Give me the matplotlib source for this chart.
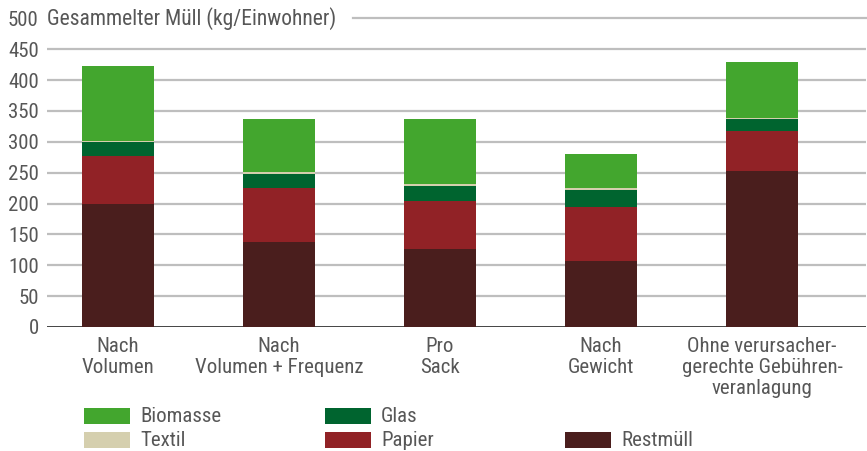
import matplotlib
matplotlib.use("Agg")
import matplotlib.pyplot as plt
from matplotlib import font_manager
from matplotlib.patches import Rectangle

# ---- data ----
categories = ["Nach\nVolumen", "Nach\nVolumen + Frequenz", "Pro\nSack", "Nach\nGewicht",
              "Ohne verursacher-\ngerechte Gebühren-\nveranlagung"]
restmuell = [200, 138, 126, 107, 253]
papier = [77, 88, 78, 87, 65]
glas = [23, 22.5, 25, 28, 19]
textil = [2, 2.5, 3, 4, 2]
biomasse = [121, 86, 105, 55, 90]
y_ticks = [0, 50, 100, 150, 200, 250, 300, 350, 400, 450, 500]
y_title = "Gesammelter Müll (kg/Einwohner)"

series = [("Restmüll", restmuell, "#4A1E1D"),
          ("Papier", papier, "#912226"),
          ("Glas", glas, "#00642F"),
          ("Textil", textil, "#D5CFAE"),
          ("Biomasse", biomasse, "#43A62E")]

# ---- font ----
avail = {f.name for f in font_manager.fontManager.ttflist}
fam = "DejaVu Sans"
for cand in ["Liberation Sans Narrow", "DejaVu Sans Condensed", "Roboto Condensed", "Open Sans Condensed"]:
    if cand in avail:
        fam = cand
        break
plt.rcParams["font.family"] = [fam, "DejaVu Sans"]
FS = 15
TC = "#575757"

W, H = 867, 451
fig = plt.figure(figsize=(W / 100, H / 100), dpi=100)
px_per_unit = 30.86 / 50
ymax = 505
ax_left, ax_right, ax_base = 47, 866, 327
ax_h = ymax * px_per_unit
ax = fig.add_axes([ax_left / W, 1 - ax_base / H, (ax_right - ax_left) / W, ax_h / H])

x = list(range(len(categories)))
bottom = [0] * len(categories)
for name, vals, col in series:
    ax.bar(x, vals, width=0.447, bottom=bottom, color=col, zorder=3, linewidth=0)
    bottom = [b + v for b, v in zip(bottom, vals)]

ax.set_xlim((ax_left - 118) / 161, (ax_right - 118) / 161)
ax.set_ylim(0, ymax)
for s in ax.spines.values():
    s.set_visible(False)

for t in y_ticks[1:-1]:
    ax.axhline(t, color="#BEBEBE", lw=1.6, zorder=1)
ax.axhline(0, color="#333333", lw=2, zorder=2)

ax.set_yticks(y_ticks)
ax.set_yticklabels([str(t) for t in y_ticks])
ax.tick_params(axis="y", length=0, pad=6, labelsize=FS, labelcolor=TC)
ax.set_xticks(x)
ax.set_xticklabels(categories, linespacing=1.15)
ax.tick_params(axis="x", length=0, pad=7, labelsize=FS, labelcolor=TC)

# title at the 500 line
title = ax.text(0.0, 500, y_title, transform=ax.get_yaxis_transform(),
                ha="left", va="center", fontsize=15.5, color=TC, zorder=4)
fig.canvas.draw()
bb = title.get_window_extent()
x_start = bb.x1 + 17
ax0 = ax.get_window_extent()
ax.axhline(500, xmin=(x_start - ax0.x0) / ax0.width, xmax=1, color="#BEBEBE", lw=1.6,
           zorder=1, clip_on=False)

# legend (manual layout)
legend_items = [("Biomasse", "#43A62E", 84, 416),
                ("Textil", "#D5CFAE", 84, 440),
                ("Glas", "#00642F", 325, 416),
                ("Papier", "#912226", 325, 440),
                ("Restmüll", "#4A1E1D", 565, 440)]
pw, ph = 46, 16
for lab, col, px, py in legend_items:
    fig.patches.append(Rectangle((px / W, 1 - (py + ph / 2) / H), pw / W, ph / H,
                                 transform=fig.transFigure, facecolor=col, edgecolor="none"))
    fig.text((px + pw + 10) / W, 1 - py / H, lab, ha="left", va="center",
             fontsize=FS, color=TC)

fig.savefig("out.png", dpi=100)
